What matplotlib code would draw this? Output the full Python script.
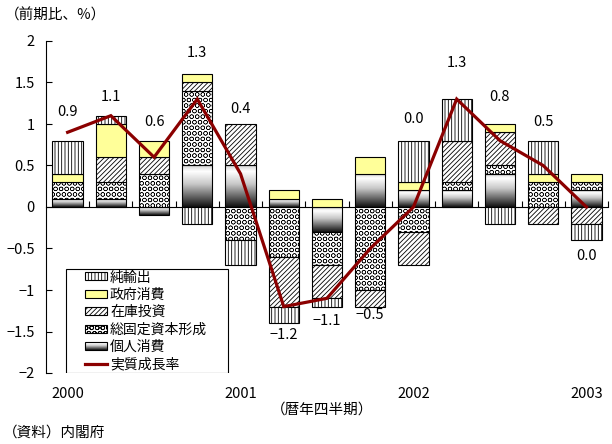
import numpy as np
import matplotlib
matplotlib.use("Agg")
import matplotlib.pyplot as plt
from matplotlib.patches import Rectangle
from matplotlib.lines import Line2D
from matplotlib.colors import LinearSegmentedColormap
from matplotlib.legend_handler import HandlerBase
from matplotlib.image import BboxImage
from matplotlib.transforms import Bbox, TransformedBbox
from matplotlib.ticker import FuncFormatter

plt.rcParams['font.family'] = ['Noto Sans CJK JP', 'DejaVu Sans']
plt.rcParams['hatch.linewidth'] = 0.6

# Quarterly contributions to real GDP growth (percentage points), 2000Q1 - 2003Q1
quarters = ['2000Q1', '2000Q2', '2000Q3', '2000Q4',
            '2001Q1', '2001Q2', '2001Q3', '2001Q4',
            '2002Q1', '2002Q2', '2002Q3', '2002Q4', '2003Q1']
personal = [0.1, 0.1, -0.1, 0.5, 0.5, 0.1, -0.3, 0.4, 0.2, 0.2, 0.4, 0.0, 0.2]
fixed_capital = [0.2, 0.2, 0.4, 0.9, -0.4, -0.6, -0.4, -1.0, -0.3, 0.1, 0.1, 0.3, 0.1]
inventory = [0.0, 0.3, 0.2, 0.1, 0.5, -0.6, -0.4, -0.2, -0.4, 0.5, 0.4, -0.2, -0.2]
government = [0.1, 0.4, 0.2, 0.1, 0.0, 0.1, 0.1, 0.2, 0.1, 0.0, 0.1, 0.1, 0.1]
net_exports = [0.4, 0.1, 0.0, -0.2, -0.3, -0.2, -0.1, 0.0, 0.5, 0.5, -0.2, 0.4, -0.2]
gdp_growth = [0.9, 1.1, 0.6, 1.3, 0.4, -1.2, -1.1, -0.5, 0.0, 1.3, 0.8, 0.5, 0.0]

year_ticks = [0, 4, 8, 12]
year_labels = ['2000', '2001', '2002', '2003']

# gap between the bar end and its growth label (positive: above, negative: below)
label_gap = [0.34, 0.22, 0.22, 0.26, 0.18, -0.14, -0.17, -0.10, 0.26, 0.44, 0.33, 0.23, -0.19]

YELLOW = '#FFFF99'
LINE_RED = '#8B0000'
BAR_W = 0.7
HATCH_NX = '|||||'
HATCH_INV = '///////'
HATCH_FIX = 'OOO'
HATCH_LW = {HATCH_NX: 0.6, HATCH_INV: 0.6, HATCH_FIX: 0.35, None: 0.6}

grad_cmap = LinearSegmentedColormap.from_list(
    'shade', [(0.0, '#d0d0d0'), (0.15, '#ffffff'), (0.45, '#c8c8c8'), (1.0, '#101010')])
grad_data = np.linspace(0, 1, 256).reshape(-1, 1)


class GradientKey:
    pass


class HandlerGradient(HandlerBase):
    def create_artists(self, legend, orig_handle, xdescent, ydescent,
                       width, height, fontsize, trans):
        bb = Bbox.from_bounds(-xdescent, -ydescent, width, height)
        img = BboxImage(TransformedBbox(bb, trans), cmap=grad_cmap,
                        interpolation='bilinear', origin='upper')
        img.set_data(grad_data)
        rect = Rectangle((-xdescent, -ydescent), width, height, fc='none',
                         ec='black', lw=0.8, transform=trans)
        return [img, rect]


def key_patch(fc, hatch=None):
    with plt.rc_context({'hatch.linewidth': HATCH_LW[hatch]}):
        return Rectangle((0, 0), 1, 1, fc=fc, ec='black', hatch=hatch, lw=0.8)


fig = plt.figure(figsize=(6.12, 4.44), dpi=100)
ax = fig.add_axes([46 / 612, 71 / 444, 562 / 612, 332 / 444])

x = np.arange(len(quarters))
pos_base = np.zeros(len(x))
neg_base = np.zeros(len(x))

series = [
    (personal, 'none', None, 'gradient'),
    (fixed_capital, 'white', HATCH_FIX, None),
    (inventory, 'white', HATCH_INV, None),
    (government, YELLOW, None, None),
    (net_exports, 'white', HATCH_NX, None),
]

for values, fc, hatch, kind in series:
    v = np.array(values, dtype=float)
    bottoms = np.where(v >= 0, pos_base, neg_base)
    mask = v != 0
    if kind == 'gradient':
        for xi, b, h in zip(x[mask], bottoms[mask], v[mask]):
            lo, hi = min(b, b + h), max(b, b + h)
            ax.imshow(grad_data, cmap=grad_cmap, aspect='auto', interpolation='bilinear',
                      extent=[xi - BAR_W / 2, xi + BAR_W / 2, lo, hi], origin='upper', zorder=2)
    with plt.rc_context({'hatch.linewidth': HATCH_LW[hatch]}):
        ax.bar(x[mask], v[mask], BAR_W, bottom=bottoms[mask], facecolor=fc,
               hatch=hatch, edgecolor='black', linewidth=0.8, zorder=3)
    pos_base = np.where(v >= 0, pos_base + v, pos_base)
    neg_base = np.where(v < 0, neg_base + v, neg_base)

ax.plot(x, gdp_growth, color=LINE_RED, lw=2.3, zorder=5, solid_joinstyle='miter')


def fmt_val(v):
    return f"{v:.1f}".replace('-', '\u2212')


for xi, g, gap, top, bot in zip(x, gdp_growth, label_gap, pos_base, neg_base):
    y = top + gap if gap > 0 else bot + gap
    ax.text(xi, y, fmt_val(g), ha='center', va='center', fontsize=10.5, zorder=6)

ax.set_xlim(-0.5, len(x) - 0.5)
ax.set_ylim(-2, 2)

for side in ['top', 'right', 'bottom']:
    ax.spines[side].set_visible(False)
ax.spines['left'].set_linewidth(0.8)

ax.set_yticks(np.arange(-2, 2.01, 0.5))
ax.yaxis.set_major_formatter(FuncFormatter(lambda v, p: f"{v:g}".replace('-', '\u2212')))
ax.tick_params(axis='y', direction='in', length=4, width=0.8, labelsize=10.5, pad=8)

ax.set_xticks(year_ticks)
ax.set_xticklabels(year_labels)
ax.tick_params(axis='x', length=0, labelsize=10.5, pad=10)

# zero line with quarter separators
zero_axis = ax.secondary_xaxis(0.5)
zero_axis.set_xticks(x + 0.5)
zero_axis.tick_params(axis='x', direction='out', length=4, width=0.8, labeltop=False,
                      labelbottom=False)
zero_axis.spines['top'].set_linewidth(0.8)

handles = [
    key_patch('white', HATCH_NX),
    key_patch(YELLOW),
    key_patch('white', HATCH_INV),
    key_patch('white', HATCH_FIX),
    GradientKey(),
    Line2D([], [], color=LINE_RED, lw=2.3),
]
labels = ['純輸出', '政府消費', '在庫投資', '総固定資本形成', '個人消費', '実質成長率']

# legend box
frame = Rectangle((20 / 562, 0.0), 162 / 562, 104 / 332, transform=ax.transAxes,
                  fc='white', ec='black', lw=0.8, zorder=9)
ax.add_patch(frame)
leg = ax.legend(handles, labels, loc='center left', bbox_to_anchor=(39 / 562, 52 / 332),
                borderaxespad=0, borderpad=0, fontsize=10, frameon=False,
                handlelength=1.6, handleheight=0.5, labelspacing=0.25, handletextpad=0.2,
                handler_map={GradientKey: HandlerGradient()})
leg.set_zorder(10)

fig.text(5 / 612, 1 - 15 / 444, '（前期比、%）', fontsize=10.5, ha='left', va='center')
fig.text(322 / 612, 1 - 410 / 444, '（暦年四半期）', fontsize=10.5, ha='center', va='center')
fig.text(3 / 612, 1 - 433 / 444, '（資料）内閣府', fontsize=10.5, ha='left', va='center')

fig.savefig('out.png', dpi=100)
